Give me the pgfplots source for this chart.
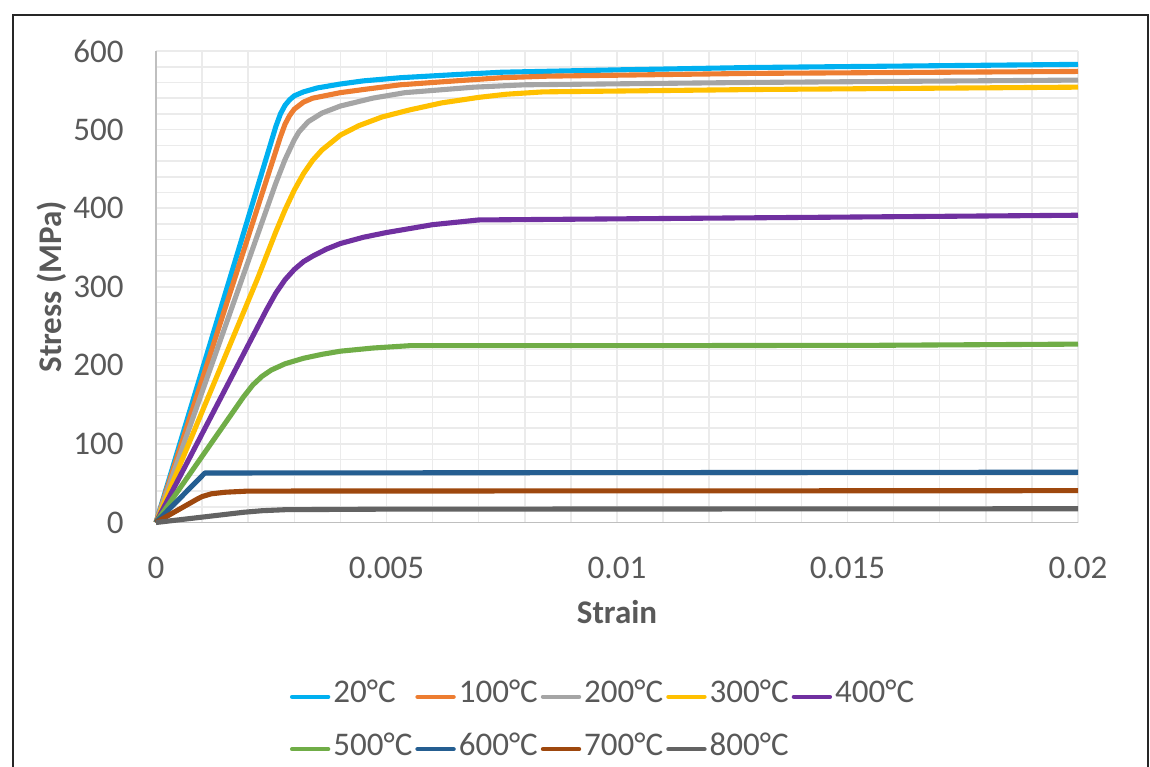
\documentclass[border=0pt]{standalone}
\usepackage{fontspec}
\setmainfont{Carlito}
\usepackage{pgfplots}
\pgfplotsset{compat=1.18}

\definecolor{c20}{HTML}{00B0F0}
\definecolor{c100}{HTML}{ED7D31}
\definecolor{c200}{HTML}{A5A5A5}
\definecolor{c300}{HTML}{FFC000}
\definecolor{c400}{HTML}{7030A0}
\definecolor{c500}{HTML}{70AD47}
\definecolor{c600}{HTML}{255E91}
\definecolor{c700}{HTML}{9E480E}
\definecolor{c800}{HTML}{636363}
\definecolor{txt}{HTML}{595959}
\definecolor{gridc}{HTML}{EBEBEB}
\definecolor{axisc}{HTML}{BFBFBF}

\newcommand\chartfont{\fontsize{18.8}{22.5}\selectfont}

\begin{document}
\begin{tikzpicture}
\useasboundingbox (0,0) rectangle (23,15.32);
% outer frame (bottom edge is cut off in the reference)
\draw[black!85, line width=1pt] (0.26,-0.2) -- (0.26,15.02) -- (22.96,15.02) -- (22.96,-0.2);

\begin{axis}[
    at={(3.12cm,4.87cm)}, anchor=south west,
    scale only axis, width=18.44cm, height=9.43cm,
    xmin=0, xmax=0.02, ymin=0, ymax=600,
    enlargelimits=false, clip=false,
    scaled x ticks=false,
    xtick={0,0.005,0.01,0.015,0.02},
    xticklabels={0,0.005,0.01,0.015,0.02},
    ytick={0,100,...,600},
    minor x tick num=4, minor y tick num=4,
    grid=both,
    major grid style={draw=gridc, line width=0.9pt},
    minor grid style={draw=gridc, line width=0.9pt},
    major tick length=0pt, minor tick length=0pt,
    axis lines*=left,
    x axis line style={-, draw=axisc, line width=1pt},
    y axis line style={-, draw=axisc, line width=1pt},
    /pgf/number format/assume math mode=true,
    tick label style={font=\chartfont, text=txt},
    yticklabel style={anchor=east, inner sep=0pt, xshift=-0.64cm},
    xticklabel style={anchor=north, inner sep=0pt, yshift=-0.69cm},
    ylabel={\bfseries Stress (MPa)},
    xlabel={\bfseries Strain},
    label style={font=\chartfont, text=txt},
    ylabel style={at={(axis description cs:-0.1128,0.5)}, anchor=center},
    xlabel style={at={(axis description cs:0.5,-0.19)}, anchor=center},
    legend columns=5,
    legend cell align=left,
    legend image code/.code={\draw[#1, line width=2.5pt, line cap=round] (0cm,0cm) -- (0.72cm,0cm);},
    legend style={draw=none, fill=none, at={(axis description cs:0.1449,-0.4252)}, anchor=west,
        inner sep=0pt, column sep=0pt, row sep=0.80cm, font=\chartfont, text=txt,
        nodes={inner xsep=0.06cm, inner ysep=0pt, text height=0.7em, text depth=0pt}},
    every axis plot/.append style={line width=2.9pt, line join=round},
]
\addplot[c20] coordinates {(0,0) (0.0026,504) (0.0027,520) (0.0028,531) (0.0029,538) (0.003,543) (0.0032,548) (0.0035,553) (0.004,558) (0.0045,562) (0.0053,566) (0.0065,570) (0.0075,573) (0.01,576) (0.0129,579) (0.02,583)};
\addlegendentry{20°C}
\addplot[c100] coordinates {(0,0) (0.0027,491) (0.0028,507) (0.0029,518) (0.003,526) (0.0032,535) (0.0034,540) (0.004,547) (0.0045,551) (0.0053,557) (0.0065,562) (0.0075,566) (0.0085,568) (0.0129,571.5) (0.02,574)};
\addlegendentry{100°C}
\addplot[c200] coordinates {(0,0) (0.0026,432) (0.0028,462) (0.003,487) (0.0031,497) (0.0033,510) (0.0036,521) (0.004,530) (0.0047,540) (0.0054,547) (0.0069,554) (0.008,557) (0.0129,560) (0.02,563)};
\addlegendentry{200°C}
\addplot[c300] coordinates {(0,0) (0.0022,310) (0.0024,340) (0.0026,370) (0.0028,398) (0.003,423) (0.0032,444) (0.0034,461) (0.0036,474) (0.004,493) (0.0044,505) (0.0049,516) (0.0055,525) (0.0062,534) (0.007,541) (0.0076,545) (0.0084,548) (0.013,551) (0.02,554)};
\addlegendentry{300°C}
\addplot[c400] coordinates {(0,0) (0.0024,271) (0.0026,292) (0.0028,309) (0.003,322) (0.0032,332) (0.0034,339) (0.0037,348) (0.004,355) (0.0045,363) (0.005,369) (0.006,379) (0.007,385) (0.0157,389) (0.02,391)};
\addlegendentry{400°C}
\addplot[c500] coordinates {(0,0) (0.0019,160) (0.0021,175) (0.0023,186) (0.0025,194) (0.0028,202) (0.0032,209) (0.0036,214) (0.004,218) (0.0047,222) (0.0055,225) (0.01,225) (0.0157,225.5) (0.02,227)};
\addlegendentry{500°C}
\addplot[c600] coordinates {(0,0) (0.00106,63) (0.02,64)};
\addlegendentry{600°C}
\addplot[c700] coordinates {(0,0) (0.0009,30) (0.001,33) (0.0012,36.5) (0.0015,38.5) (0.002,40) (0.02,40.5)};
\addlegendentry{700°C}
\addplot[c800] coordinates {(0,0) (0.0019,13) (0.0023,15) (0.0028,16.3) (0.005,17) (0.02,17.5)};
\addlegendentry{800°C}
\end{axis}
\end{tikzpicture}
\end{document}
